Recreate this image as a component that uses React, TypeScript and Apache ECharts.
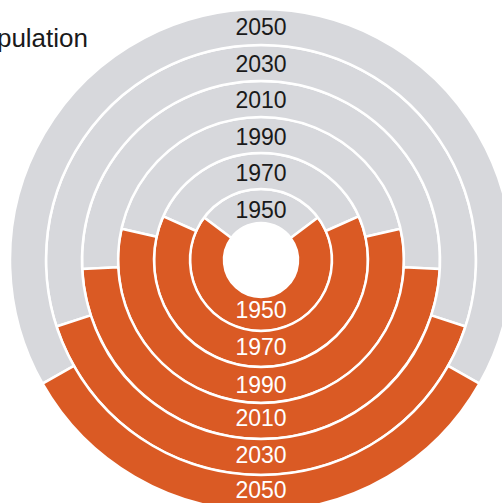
import React, { useEffect, useRef } from "react";
import * as echarts from "echarts";

const years = ["1950", "1970", "1990", "2010", "2030", "2050"];
const urbanShare = [29.6, 36.6, 43.0, 51.6, 60.0, 66.4];
const ruralShare = [70.4, 63.4, 57.0, 48.4, 40.0, 33.6];
const titleText = "Urban population";

const URBAN_COLOR = "#d7d8dc";
const RURAL_COLOR = "#da5a24";
const FONT = "'Helvetica Neue', 'Liberation Sans', Arial, sans-serif";
const ringEdges = [37, 71, 107, 143, 179, 215, 251];
const CENTER = [261, 260];
// ECharts puts "inside" pie labels 3px outside the ring middle; pull them inward (px)
const topNudge = [7, 5, 4.5, 4, 3.5, 3];
const bottomNudge = [7, 5, 3.5, 6, 5.5, 6];

export default function App() {
  const ref = useRef<HTMLDivElement>(null);
  useEffect(() => {
    if (!ref.current) return;
    const chart = echarts.init(ref.current, undefined, { renderer: "svg" });
    const series = years.map((y, i) => ({
      type: "pie",
      name: y,
      center: CENTER,
      radius: [ringEdges[i], ringEdges[i + 1]],
      startAngle: 90 + (urbanShare[i] * 3.6) / 2,
      clockwise: true,
      silent: true,
      avoidLabelOverlap: false,
      labelLine: { show: false },
      itemStyle: { borderColor: "#ffffff", borderWidth: 2.5 },
      label: {
        show: true,
        position: "inside",
        fontFamily: FONT,
        fontSize: 23,
      },
      data: [
        {
          name: "Urban",
          value: urbanShare[i],
          itemStyle: { color: URBAN_COLOR },
          label: {
            color: "#1a1a1a",
            formatter: () => "\n" + y,
            lineHeight: topNudge[i] * 2,
          },
        },
        {
          name: "Rural",
          value: ruralShare[i],
          itemStyle: { color: RURAL_COLOR },
          label: {
            color: "#ffffff",
            formatter: () => y + "\n",
            lineHeight: bottomNudge[i] * 2,
          },
        },
      ],
    }));
    chart.setOption({
      animation: false,
      backgroundColor: "#ffffff",
      title: {
        text: titleText,
        right: 414,
        top: 25,
        padding: 0,
        textStyle: {
          fontFamily: FONT,
          fontSize: 26,
          fontWeight: "normal",
          color: "#1a1a1a",
        },
      },
      series,
    });
    return () => chart.dispose();
  }, []);
  return (
    <div
      ref={ref}
      style={{ position: "absolute", left: 0, top: 0, width: 502, height: 503 }}
    />
  );
}
